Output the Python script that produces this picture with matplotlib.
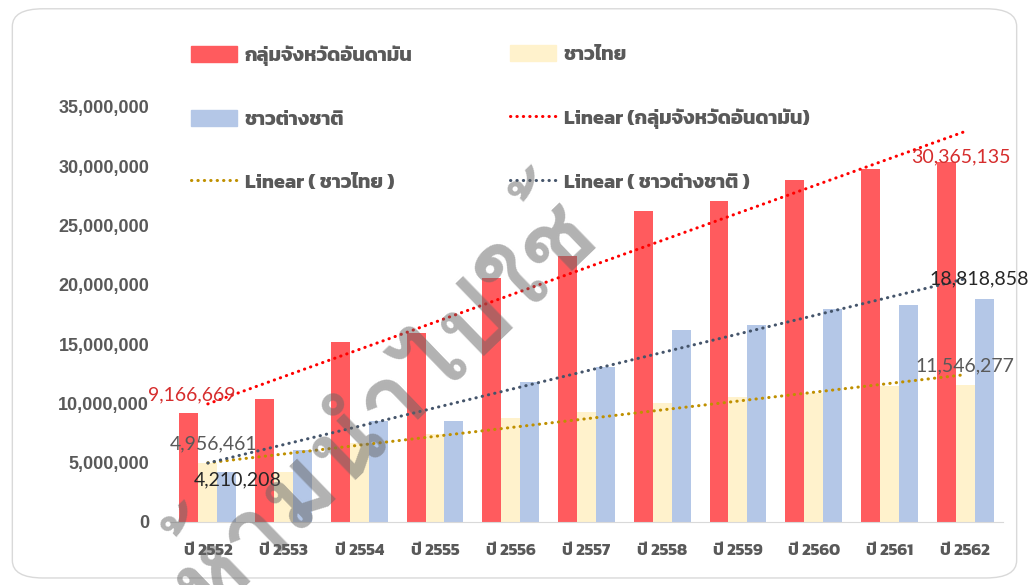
import matplotlib
matplotlib.use("Agg")
import matplotlib.pyplot as plt
from matplotlib.patches import Patch, FancyBboxPatch
from matplotlib.lines import Line2D
from matplotlib.ticker import FuncFormatter
import numpy as np

years = ["ปี 2552", "ปี 2553", "ปี 2554", "ปี 2555", "ปี 2556", "ปี 2557",
         "ปี 2558", "ปี 2559", "ปี 2560", "ปี 2561", "ปี 2562"]
andaman = [9166669, 10350000, 15200000, 15900000, 20600000, 22400000,
           26200000, 27100000, 28850000, 29800000, 30365135]
thai = [4956461, 4250000, 6700000, 7400000, 8800000, 9300000,
        10000000, 10500000, 10850000, 11500000, 11546277]
foreign = [4210208, 6100000, 8500000, 8500000, 11800000, 13100000,
           16200000, 16600000, 18000000, 18300000, 18818858]

names = ["กลุ่มจังหวัดอันดามัน", "ชาวไทย", "ชาวต่างชาติ"]
bar_colors = ["#FF5B5E", "#FFF2CC", "#B4C7E7"]
trend_colors = ["#FF0000", "#BF9000", "#44546A"]
dots = (0, (0.1, 2.0))

plt.rcParams["font.family"] = ["Kanit", "Liberation Sans", "DejaVu Sans"]

fig = plt.figure(figsize=(10.29, 5.85), dpi=100)
ax = fig.add_axes([0.1652, 0.1077, 0.8095, 0.7094])

x = np.arange(len(years))
w = 0.25
series = [andaman, thai, foreign]
for i, vals in enumerate(series):
    ax.bar(x + (i - 1) * w, vals, w, color=bar_colors[i], zorder=2)

# linear trendlines
for i, vals in enumerate(series):
    k, b = np.polyfit(x, vals, 1)
    ax.plot(x, k * x + b, color=trend_colors[i], lw=2.2, linestyle=dots,
            dash_capstyle="round", zorder=3)

ax.set_xlim(-0.5, 10.5)
ax.set_ylim(0, 35000000)
ax.set_yticks(np.arange(0, 35000001, 5000000))
ax.yaxis.set_major_formatter(FuncFormatter(lambda v, p: f"{int(v):,}"))
ax.set_xticks(x)
ax.set_xticklabels(years)
for s in ["top", "right", "left"]:
    ax.spines[s].set_visible(False)
ax.spines["bottom"].set_color("#D9D9D9")
ax.tick_params(length=0)
ax.tick_params(axis="y", pad=15, labelcolor="#595959")
ax.tick_params(axis="x", pad=16, labelcolor="#595959")
for t in ax.get_yticklabels():
    t.set_fontfamily(["Liberation Sans"])
    t.set_fontweight("bold")
    t.set_fontsize(13)
for t in ax.get_xticklabels():
    t.set_fontweight("bold")
    t.set_fontsize(12)

# value labels for first and last year
lab_font = ["Lato", "DejaVu Sans"]
lab = [
    (0 - w, andaman[0], (3, 18), "#D62D2D"),
    (0, thai[0], (6, 19), "#595959"),
    (0 + w, foreign[0], (11, -8), "#262626"),
    (10 - w, andaman[10], (15, 5), "#D62D2D"),
    (10 + w, foreign[10], (-5, 20), "#262626"),
    (10, thai[10], (0, 19), "#595959"),
]
for xx, v, off, c in lab:
    ax.annotate(f"{v:,}", (xx, v), xytext=off, textcoords="offset pixels",
                ha="center", va="center", color=c, fontsize=14,
                family=lab_font, zorder=5)


def dotted(c):
    return Line2D([], [], color=c, lw=2.2, linestyle=dots, dash_capstyle="round")


col1 = ([Patch(color=bar_colors[0]), Patch(color=bar_colors[2]), dotted(trend_colors[1])],
        [names[0], names[2], "Linear ( ชาวไทย )"])
col2 = ([Patch(color=bar_colors[1]), dotted(trend_colors[0]), dotted(trend_colors[2])],
        [names[1], "Linear (กลุ่มจังหวัดอันดามัน)", "Linear ( ชาวต่างชาติ )"])
for (h, l), xa in [(col1, 0.176), (col2, 0.486)]:
    leg = fig.legend(h, l, loc="upper left", bbox_to_anchor=(xa, 0.94),
                     frameon=False, borderpad=0, handlelength=2.3,
                     handleheight=0.85, handletextpad=0.4, labelspacing=2.23,
                     prop={"weight": "bold", "size": 14.3})
    for t in leg.get_texts():
        t.set_color("#595959")

# rounded border of the chart area
fig.patches.append(FancyBboxPatch((0.012, 0.012), 0.976, 0.973,
                                  boxstyle="round,pad=0,rounding_size=0.03",
                                  transform=fig.transFigure, fill=False,
                                  ec="#D9D9D9", lw=1))

# watermark
fig.text(0.37, 0.31, "ห้ามนำไปใช้", rotation=44, fontsize=72,
         family=["Loma", "DejaVu Sans"], color="#666666", alpha=0.5,
         ha="center", va="center", fontweight="bold", zorder=10)

fig.savefig("out.png", dpi=100)
